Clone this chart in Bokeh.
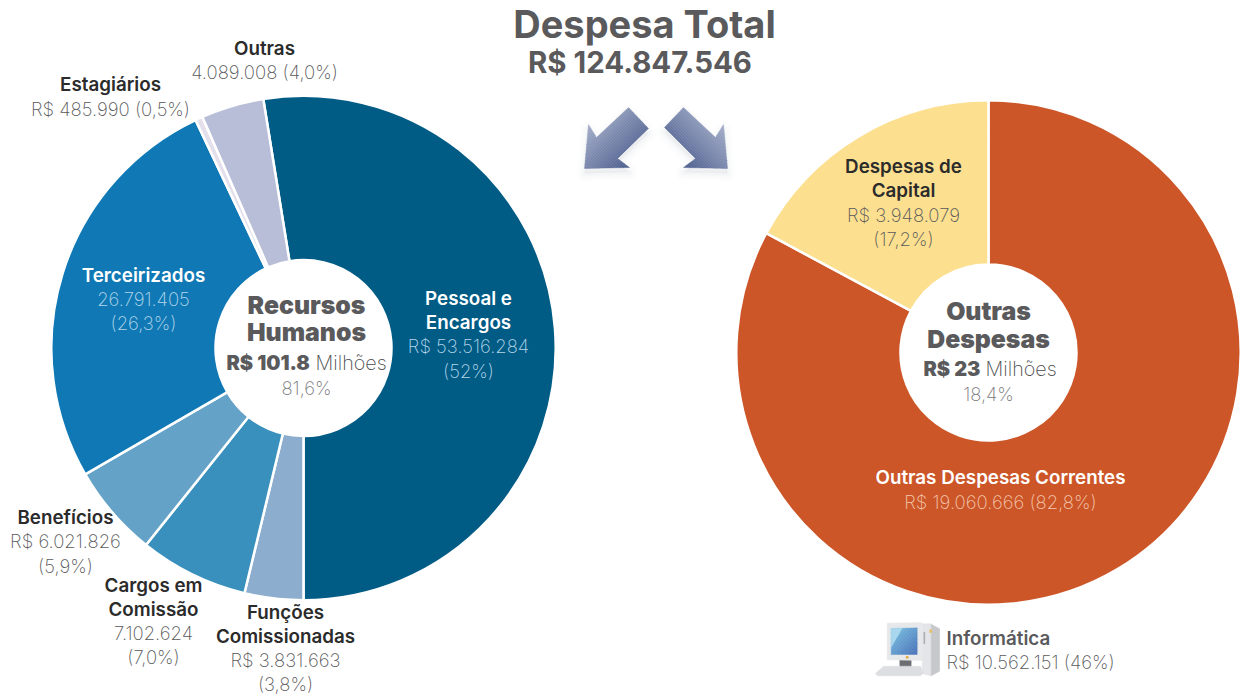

import numpy as np
from bokeh.plotting import figure
from bokeh.core.properties import value
from bokeh.embed import file_html
from bokeh.resources import INLINE

# ---- data ----
rh_names = ["Pessoal e Encargos", "Funções Comissionadas", "Cargos em Comissão", "Benefícios", "Terceirizados", "Estagiários", "Outras"]
rh_values = [53516284, 3831663, 7102624, 6021826, 26791405, 485990, 4089008]
rh_colors = ["#005b85", "#8cadcd", "#3a90bd", "#65a2c7", "#1079b5", "#e3e0ec", "#b8bed8"]
od_names = ["Outras Despesas Correntes", "Despesas de Capital"]
od_values = [19060666, 3948079]
od_colors = ["#cc5628", "#fcdf8f"]

W, H = 1240, 696
p = figure(width=W, height=H, x_range=(0, W), y_range=(H, 0), output_backend="svg",
           toolbar_location=None, min_border=0, outline_line_color=None)
p.axis.visible = False
p.grid.visible = False

def donut(vals, colors, cx, cy, start_cw_deg):
    """start_cw_deg: clockwise from 12 o'clock, slices proceed clockwise on screen."""
    vals = np.array(vals, float)
    fr = np.cumsum(np.r_[0, vals]) / vals.sum() * 2 * np.pi
    a0 = np.pi / 2 - np.deg2rad(start_cw_deg) - fr[:-1]
    a1 = np.pi / 2 - np.deg2rad(start_cw_deg) - fr[1:]
    p.annular_wedge(x=[cx] * len(vals), y=[cy] * len(vals), inner_radius=88, outer_radius=252.2,
                    start_angle=a0, end_angle=a1, direction="clock",
                    fill_color=colors, line_color="white", line_width=2.5)

rh = np.array(rh_values, float)
donut(rh_values, rh_colors, 303, 347.5, 180 - rh[0] / rh.sum() * 360)
donut(od_values, od_colors, 988, 352, 0)

# ---- decorative arrows (gradient built from clipped bands) ----
def clip(poly, n, d, keep_ge=True):
    out = []
    s = 1 if keep_ge else -1
    for i in range(len(poly)):
        a, b = np.array(poly[i]), np.array(poly[(i + 1) % len(poly)])
        fa, fb = s * (a @ n - d), s * (b @ n - d)
        if fa >= 0:
            out.append(a)
        if fa * fb < 0:
            out.append(a + (b - a) * fa / (fa - fb))
    return out

def hexrgb(h):
    return np.array([int(h[i:i + 2], 16) for i in (1, 3, 5)], float)

def gradient(poly, direction, c0, c1, nb=28):
    n = np.array(direction, float)
    n /= np.hypot(*n)
    proj = [np.array(q) @ n for q in poly]
    lo, hi = min(proj), max(proj)
    edges = np.linspace(lo, hi, nb + 1)
    c0, c1 = hexrgb(c0), hexrgb(c1)
    for i in range(nb):
        q = clip(poly, n, edges[i], True)
        if q:
            q = clip(q, n, edges[i + 1], False)
        if len(q) >= 3:
            c = c0 + (c1 - c0) * (i + .5) / nb
            col = "#%02x%02x%02x" % tuple(int(v) for v in c)
            p.patch([v[0] for v in q], [v[1] for v in q], fill_color=col, line_color=col, line_width=0.4)

arrow_l = [(584, 168), (588, 124), (596, 137), (628, 107), (648, 128), (617, 158), (629, 167)]
arrow_r = [(664, 127), (683, 107), (715, 137), (723, 124), (727, 168), (683, 167), (695, 158)]
for arrow in (arrow_l, arrow_r):
    xs, ys = zip(*arrow)
    for lw, al in ((16, .012), (10, .018), (5, .025)):
        p.patch(list(xs), [y + 5 for y in ys], fill_color="#44506e", fill_alpha=al,
                line_color="#44506e", line_alpha=al, line_width=lw, line_join="round")
gradient(arrow_l, (1, 1), "#a3adc9", "#4c5e8d")
gradient(arrow_r, (1, -1), "#4c5e8d", "#a3adc9")

# ---- decorative computer icon ----
def ic(pts, color, **kw):
    xs = [860 + a / 3 for a, _ in pts]
    ys = [610 + b / 3 for _, b in pts]
    p.patch(xs, ys, fill_color=color, line_color=kw.get("lc", color), line_width=kw.get("lw", 0.5))

ic([(185, 40), (212, 40), (237, 55), (237, 182), (212, 196), (185, 190)], "#e4e5e8")
ic([(212, 42), (237, 55), (237, 182), (212, 196)], "#c6c8cc")
ic([(207, 58), (214, 58), (214, 66), (207, 66)], "#e8c06a")
ic([(190, 65), (193, 65), (193, 100), (190, 100)], "#a8aaae")
ic([(118, 145), (152, 145), (152, 170), (118, 170)], "#6c6e72")
ic([(45, 188), (70, 167), (180, 167), (188, 188), (180, 196), (50, 196)], "#dcdee1")
ic([(80, 38), (184, 36), (186, 150), (80, 148)], "#e6e8ea")
gradient([(860 + a / 3, 610 + b / 3) for a, b in [(92, 54), (170, 52), (170, 132), (92, 132)]],
         (1, 1), "#7cc4e4", "#4a72b8", nb=14)
ic([(92, 54), (125, 53), (92, 110)], "#a9d8ee")
ic([(137, 138), (143, 138), (143, 143), (137, 143)], "#e8a020")

L = "Inter ExtraLight"
def txt(x, y, s, size, color, font="Inter", align="center", style="normal"):
    p.text(x=[x], y=[y], text=[s], text_font=value(font), text_font_size=f"{size}px",
           text_font_style=style, text_color=color, text_align=align, text_baseline="middle")

def label(x, y, s, color):
    txt(x, y, s, 18.8, color, "Inter SemiBold")

def sub(x, y, s, color, align="center"):
    txt(x, y - 1, s, 18.5, color, L, align)

HC = "#5a5a5c"
txt(644, 23, "Despesa Total", 38, HC, "Inter", style="bold")
txt(639.5, 62, "R$ 124.847.546", 29.4, HC, "Inter", style="bold")

blue = "#b4d6ea"; grey = "#58585a"; dark = "#2b2b2b"
label(264, 48, "Outras", dark); sub(264, 72, "4.089.008 (4,0%)", grey)
label(110, 84, "Estagiários", dark); sub(110, 109, "R$ 485.990 (0,5%)", grey)
label(468, 298, "Pessoal e", "white"); label(468, 322, "Encargos", "white")
sub(468, 346, "R$ 53.516.284", blue); sub(468, 371, "(52%)", blue)
label(143, 275, "Terceirizados", "white"); sub(143, 299, "26.791.405", blue); sub(143, 323, "(26,3%)", blue)
label(65, 517, "Benefícios", dark); sub(65, 541, "R$ 6.021.826", grey); sub(65, 566, "(5,9%)", grey)
label(153, 585, "Cargos em", dark); label(153, 609, "Comissão", dark); sub(153, 633, "7.102.624", grey); sub(153, 657, "(7,0%)", grey)
label(285, 612, "Funções", dark); label(285, 636, "Comissionadas", dark); sub(285, 660, "R$ 3.831.663", grey); sub(285, 684, "(3,8%)", grey)

txt(306, 304, "Recursos", 24.8, HC, "Inter Black"); txt(306, 331, "Humanos", 24.8, HC, "Inter Black")
txt(226, 362, "R$ 101.8", 20, HC, "Inter Black", "left"); txt(315, 362, "Milhões", 19.8, "#4c4c4e", L, "left")
txt(306, 387, "81,6%", 18.5, "#77777a", L)

txt(988, 310, "Outras", 24.8, HC, "Inter Black"); txt(988, 338, "Despesas", 24.8, HC, "Inter Black")
txt(923, 368, "R$ 23", 20, HC, "Inter Black", "left"); txt(985, 368, "Milhões", 19.8, "#4c4c4e", L, "left")
txt(988, 393, "18,4%", 18.5, "#77777a", L)

label(903, 166, "Despesas de", dark); label(903, 190, "Capital", dark)
sub(903, 215, "R$ 3.948.079", grey); sub(903, 239, "(17,2%)", grey)
label(1000, 477, "Outras Despesas Correntes", "white"); sub(1000, 502, "R$ 19.060.666 (82,8%)", "#f3c6ad")
txt(946, 638, "Informática", 18.8, HC, "Inter SemiBold", "left")
sub(946, 662, "R$ 10.562.151 (46%)", grey, "left")

open("out.html", "w").write(file_html(p, INLINE))
